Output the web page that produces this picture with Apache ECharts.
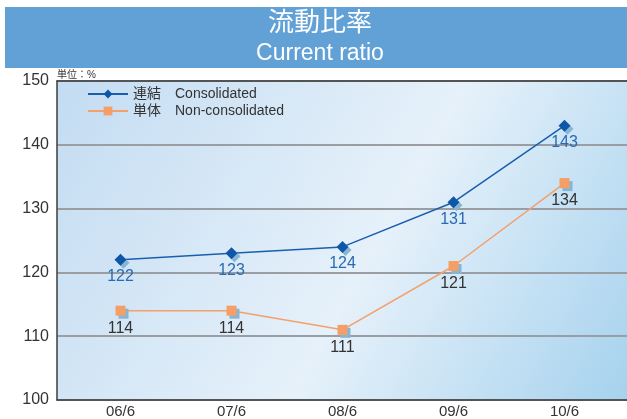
<!DOCTYPE html>
<html>
<head>
<meta charset="utf-8">
<script src="https://cdn.jsdelivr.net/npm/echarts@6/dist/echarts.min.js"></script>
<style>
  html, body { margin: 0; padding: 0; background: #fff; }
  #chart { width: 627px; height: 419px; }
</style>
</head>
<body>
<div id="chart"></div>
<script>
// data
const periods = ['06/6', '07/6', '08/6', '09/6', '10/6']
const consolidated = [122, 123, 124, 131, 143]
const nonConsolidated = [114, 114, 111, 121, 134]
const yTicks = [100, 110, 120, 130, 140, 150]

const FONT = '"Liberation Sans", "Noto Sans CJK JP", sans-serif'
const X_MIN = -0.572
const X_MAX = 4.563

const chart = echarts.init(document.getElementById('chart'))

const toPoints = arr => arr.map((v, i) => [i, v])
const frameLine = { show: true, onZero: false, lineStyle: { color: '#3c3c3c', width: 1.5 } }

chart.setOption({
  animation: false,
  textStyle: { fontFamily: FONT },
  graphic: [
    { type: 'rect', shape: { x: 5, y: 7, width: 622, height: 61 }, style: { fill: '#62A1D6' }, z: 0 },
    { type: 'text', x: 320, y: 11, style: { text: '流動比率', fill: '#fff', fontSize: 26, fontFamily: FONT, align: 'center' } },
    { type: 'text', x: 320, y: 42, style: { text: 'Current ratio', fill: '#fff', fontSize: 23, fontFamily: FONT, align: 'center' } },
    { type: 'text', x: 57, y: 70, style: { text: '単位：%', fill: '#333', fontSize: 10, fontFamily: FONT } },
  ],
  legend: {
    orient: 'vertical',
    left: 82,
    top: 82,
    itemWidth: 40,
    itemHeight: 11,
    itemGap: 3,
    textStyle: { color: '#333', fontSize: 14, fontFamily: FONT },
    data: ['連結　Consolidated', '単体　Non-consolidated'],
  },
  grid: {
    left: 57, right: 0, top: 81, bottom: 18,
    show: true,
    borderWidth: 0,
    backgroundColor: new echarts.graphic.LinearGradient(0, 0, 1, 1, [
      { offset: 0, color: '#C3DCF2' },
      { offset: 0.55, color: '#E6F1FA' },
      { offset: 1, color: '#A6D2EE' },
    ]),
  },
  xAxis: [
    {
      type: 'value',
      min: X_MIN,
      max: X_MAX,
      splitLine: { show: false },
      axisLine: frameLine,
      axisTick: { show: false },
      axisLabel: {
        customValues: periods.map((_, i) => i),
        formatter: v => periods[Math.round(v)],
        color: '#333', fontSize: 15, margin: 4, fontFamily: FONT,
      },
    },
    {
      // top frame line only
      type: 'value',
      position: 'top',
      min: X_MIN,
      max: X_MAX,
      splitLine: { show: false },
      axisLine: frameLine,
      axisTick: { show: false },
      axisLabel: { show: false },
    },
  ],
  yAxis: {
    type: 'value',
    min: yTicks[0],
    max: yTicks[yTicks.length - 1],
    interval: 10,
    axisLine: frameLine,
    axisTick: { show: false },
    axisLabel: { color: '#333', fontSize: 16, margin: 8, fontFamily: FONT },
    splitLine: { lineStyle: { color: '#9a9ea2', width: 2 } },
  },
  series: [
    {
      name: '連結　Consolidated',
      type: 'line',
      data: toPoints(consolidated),
      symbol: 'diamond',
      symbolSize: 12,
      lineStyle: { color: '#1A5FAF', width: 1.5 },
      itemStyle: { color: '#0E57A8', shadowColor: '#86B6D3', shadowOffsetX: 3, shadowOffsetY: 3, shadowBlur: 0 },
      label: {
        show: true, position: 'bottom', distance: 3,
        formatter: p => p.value[1],
        color: '#2A6AB3', fontSize: 16, fontFamily: FONT,
      },
      z: 3,
    },
    {
      name: '単体　Non-consolidated',
      type: 'line',
      data: toPoints(nonConsolidated),
      symbol: 'rect',
      symbolSize: 10,
      lineStyle: { color: '#F4A06B', width: 1.5 },
      itemStyle: { color: '#F59F67', shadowColor: '#86B6D3', shadowOffsetX: 3, shadowOffsetY: 3, shadowBlur: 0 },
      label: {
        show: true, position: 'bottom', distance: 5,
        formatter: p => p.value[1],
        color: '#333', fontSize: 16, fontFamily: FONT,
      },
      z: 2,
    },
  ],
})
</script>
</body>
</html>
